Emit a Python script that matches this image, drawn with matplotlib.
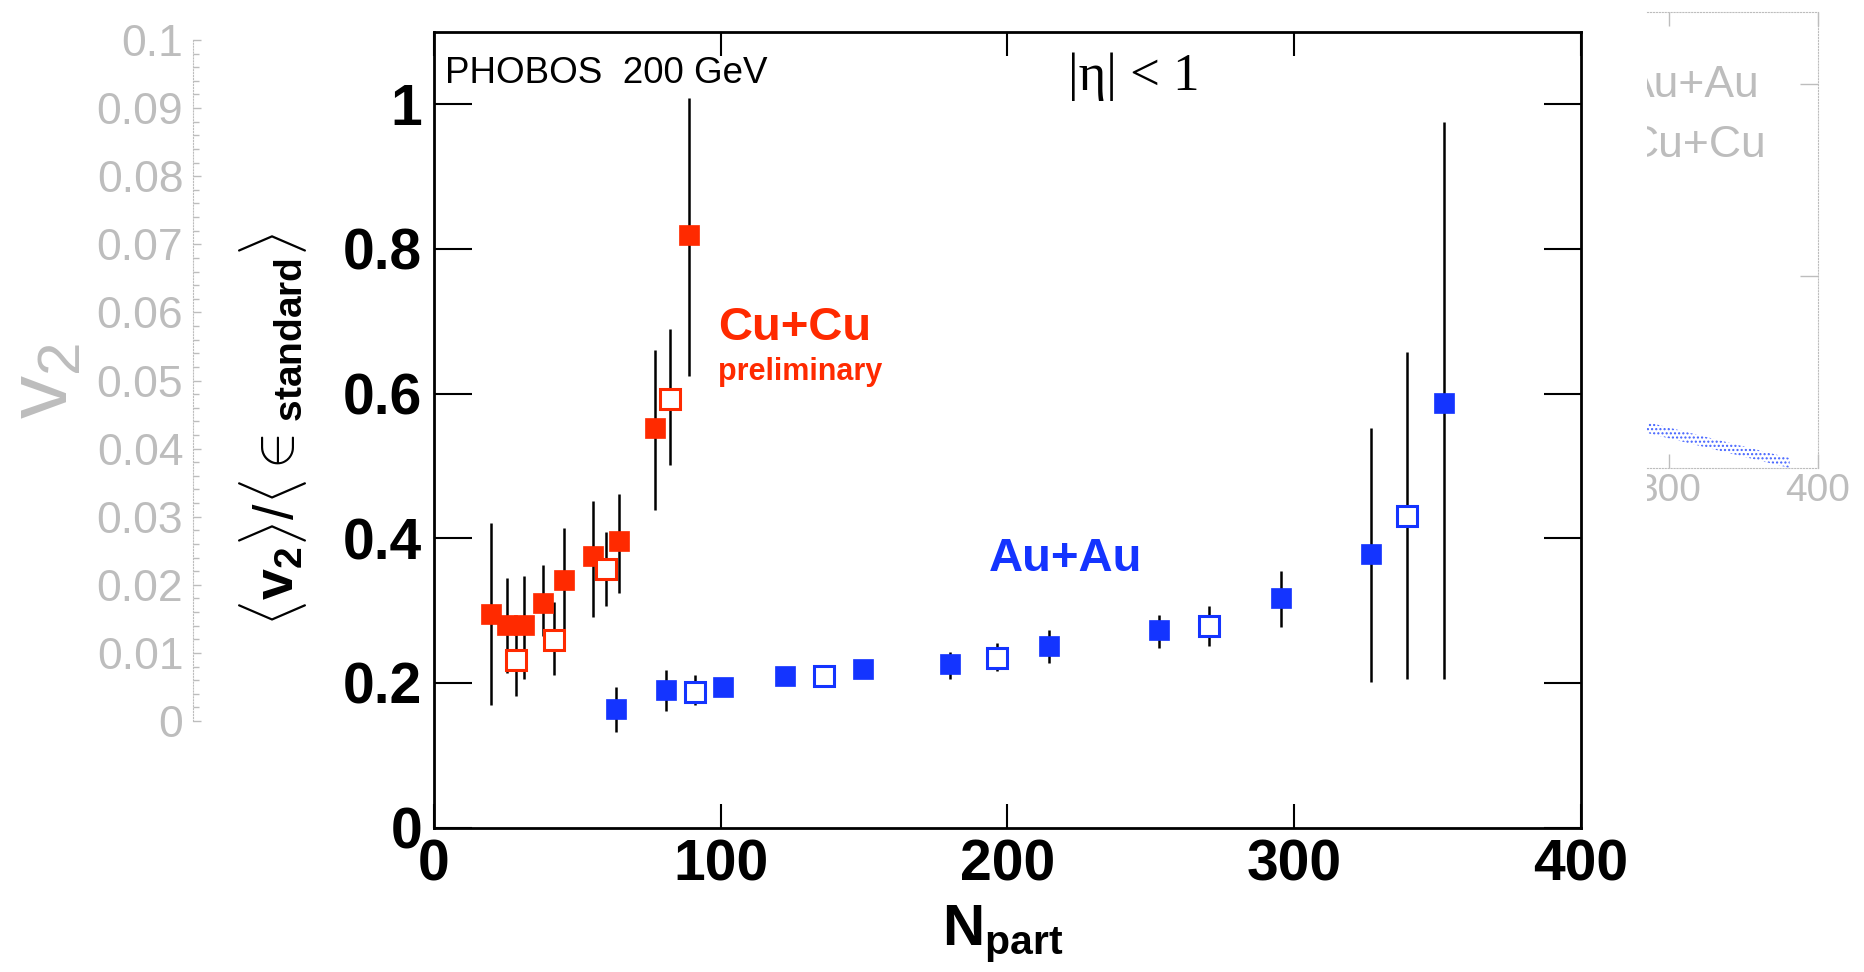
import numpy as np
import matplotlib
matplotlib.use('Agg')
import matplotlib.pyplot as plt
from matplotlib.transforms import Bbox, TransformedBbox

plt.rcParams['font.family'] = ['Liberation Sans', 'DejaVu Sans']
plt.rcParams['mathtext.fontset'] = 'custom'
plt.rcParams['mathtext.rm'] = 'Liberation Sans'
plt.rcParams['mathtext.it'] = 'Liberation Sans:italic'
plt.rcParams['mathtext.bf'] = 'Liberation Sans:bold'

# ---- data ----
# Cu+Cu, filled squares
cucu_npart = [19.9, 25.3, 31.5, 38.1, 45.2, 55.6, 64.4, 76.9, 88.8]
cucu_ratio = [0.295, 0.280, 0.280, 0.310, 0.342, 0.375, 0.396, 0.552, 0.820]
cucu_hi = [0.421, 0.345, 0.348, 0.363, 0.414, 0.451, 0.461, 0.661, 1.009]
cucu_lo = [0.170, 0.214, 0.205, 0.265, 0.270, 0.291, 0.324, 0.439, 0.624]

# Cu+Cu, open squares
cucu_open_npart = [28.5, 41.7, 60.0, 82.2]
cucu_open_ratio = [0.232, 0.260, 0.358, 0.593]
cucu_open_hi = [0.280, 0.312, 0.409, 0.690]
cucu_open_lo = [0.182, 0.211, 0.306, 0.502]

# Au+Au, filled squares
auau_npart = [63.5, 80.8, 100.9, 122.3, 149.5, 180.1, 214.3, 252.7, 295.5, 326.8, 352.3]
auau_ratio = [0.164, 0.190, 0.194, 0.209, 0.2195, 0.226, 0.2516, 0.273, 0.317, 0.378, 0.587]
auau_hi = [0.194, 0.218, 0.200, 0.214, 0.224, 0.243, 0.273, 0.294, 0.355, 0.552, 0.975]
auau_lo = [0.132, 0.161, 0.188, 0.204, 0.215, 0.205, 0.227, 0.248, 0.278, 0.201, 0.205]

# Au+Au, open squares
auau_open_npart = [91.1, 135.9, 196.4, 270.4, 339.2]
auau_open_ratio = [0.188, 0.210, 0.235, 0.279, 0.431]
auau_open_hi = [0.211, 0.215, 0.2555, 0.3065, 0.657]
auau_open_lo = [0.170, 0.205, 0.216, 0.2516, 0.205]

x_ticks = [0, 100, 200, 300, 400]
x_labels = ['0', '100', '200', '300', '400']
y_ticks = [0, 0.2, 0.4, 0.6, 0.8, 1.0]
y_labels = ['0', '0.2', '0.4', '0.6', '0.8', '1']

# faded plot left behind the main one
ghost_v2_ticks = [0, 0.01, 0.02, 0.03, 0.04, 0.05, 0.06, 0.07, 0.08, 0.09, 0.1]
ghost_v2_labels = ['0', '0.01', '0.02', '0.03', '0.04', '0.05',
                   '0.06', '0.07', '0.08', '0.09', '0.1']
inset_x_ticks = [300, 400]
inset_x_labels = ['300', '400']
inset_y_ticks = [0.02, 0.04]
band_npart = [285.2, 381.0]
band_lo = [0.00365, 0.0]
band_hi = [0.00479, 0.00104]

RED = '#ff2a00'
BLUE = '#1434ff'
GHOST = '#bdbdbd'

fig = plt.figure(figsize=(18.65, 9.72), dpi=100)

# ---- ghost v2 axis on the left ----
gax = fig.add_axes([193 / 1865, 251 / 972, 0.0005, 681 / 972])
gax.set_ylim(0, 0.1)
gax.set_xticks([])
for s in ['top', 'right', 'bottom']:
    gax.spines[s].set_visible(False)
gax.spines['left'].set_linestyle(':')
gax.spines['left'].set_color(GHOST)
gax.set_yticks(ghost_v2_ticks)
gax.set_yticks(np.arange(0, 0.1001, 0.002), minor=True)
gax.set_yticklabels(ghost_v2_labels, fontsize=32, color=GHOST)
gax.tick_params(axis='y', which='major', direction='in', length=6, width=1,
                color=GHOST, pad=7)
gax.tick_params(axis='y', which='minor', direction='in', length=4, width=1,
                color=GHOST)
gax.patch.set_visible(False)
fig.text(0.0245, 0.608, 'v$_2$', rotation=90, fontsize=62, color=GHOST,
         ha='center', va='center')

# ---- ghost inset on the right ----
iax = fig.add_axes([1647 / 1865, 504 / 972, 171 / 1865, 456 / 972])
iax.set_xlim(285.2, 400)
iax.set_ylim(0, 0.0475)
iax.patch.set_visible(False)
iax.spines['left'].set_visible(False)
for s in ['top', 'right', 'bottom']:
    iax.spines[s].set_linestyle(':')
    iax.spines[s].set_color(GHOST)
iax.set_xticks(inset_x_ticks)
iax.set_xticklabels([])
iax.set_yticks(inset_y_ticks)
iax.set_yticklabels([])
iax.tick_params(axis='x', direction='in', top=True, length=10, width=1, color=GHOST)
iax.tick_params(axis='y', direction='in', left=False, right=True, length=13,
                width=1, color=GHOST)
iax.fill_between(band_npart, band_lo, band_hi, facecolor='none',
                 edgecolor='#4060ff', hatch='....', linewidth=0)

clip_bb = TransformedBbox(Bbox([[1647 / 1865, 0], [1, 1]]), fig.transFigure)
for v, s in zip(inset_x_ticks, inset_x_labels):
    fig.text(v, -0.012, s, transform=iax.get_xaxis_transform(), fontsize=28,
             color=GHOST, ha='center', va='top', clip_on=True, clip_box=clip_bb)
fig.text(1760 / 1865, 875 / 972, 'Au+Au', fontsize=32, color=GHOST,
         ha='right', va='baseline', clip_on=True, clip_box=clip_bb)
fig.text(1767 / 1865, 815 / 972, 'Cu+Cu', fontsize=32, color=GHOST,
         ha='right', va='baseline', clip_on=True, clip_box=clip_bb)

# ---- main plot ----
ax = fig.add_axes([434 / 1865, 144.4 / 972, 1147 / 1865, 795.6 / 972])


def draw_set(x, y, lo, hi, color, filled):
    x = np.asarray(x)
    y = np.asarray(y)
    err = [y - np.asarray(lo), np.asarray(hi) - y]
    ax.errorbar(x, y, yerr=err, fmt='none', ecolor='black', elinewidth=1.8,
                capsize=0, zorder=2)
    if filled:
        ax.plot(x, y, ls='none', marker='s', ms=15, mfc=color, mec=color,
                mew=0.5, zorder=3)
    else:
        ax.plot(x, y, ls='none', marker='s', ms=14, mfc='white', mec=color,
                mew=2.2, zorder=3)


draw_set(cucu_npart, cucu_ratio, cucu_lo, cucu_hi, RED, True)
draw_set(cucu_open_npart, cucu_open_ratio, cucu_open_lo, cucu_open_hi, RED, False)
draw_set(auau_npart, auau_ratio, auau_lo, auau_hi, BLUE, True)
draw_set(auau_open_npart, auau_open_ratio, auau_open_lo, auau_open_hi, BLUE, False)

ax.set_xlim(0, 400)
ax.set_ylim(0, 1.1)
ax.set_xticks(x_ticks)
ax.set_xticklabels(x_labels, fontsize=41, fontweight='bold')
ax.set_yticks(y_ticks)
ax.set_yticklabels(y_labels, fontsize=41, fontweight='bold')
ax.tick_params(direction='in', top=True, right=True, width=1.5, color='black')
ax.tick_params(axis='y', length=27, pad=8.6)
ax.tick_params(axis='x', length=17, pad=7.5)
for s in ax.spines.values():
    s.set_linewidth(2)

ax.text(3.8, 1.030, 'PHOBOS  200 GeV', fontsize=26.5)
ax.text(221.0, 1.020, '|η| < 1', fontsize=38, family='Liberation Serif')
ax.text(99.0, 0.674, 'Cu+Cu', fontsize=34, fontweight='bold', color=RED)
ax.text(99.0, 0.619, 'preliminary', fontsize=22, fontweight='bold', color=RED)
ax.text(193.5, 0.355, 'Au+Au', fontsize=34, fontweight='bold', color=BLUE)

fig.text(0.1466, 0.558,
         r'$\langle\mathbf{v}_{\mathbf{2}}\rangle/\langle\in_{\mathbf{standard}}\rangle$',
         rotation=90, fontsize=40, ha='center', va='center')
fig.text(0.5375, 0.0278, r'$\mathbf{N}_{\mathbf{part}}$', fontsize=42,
         ha='center', va='baseline')

fig.savefig('out.png', dpi=100)
